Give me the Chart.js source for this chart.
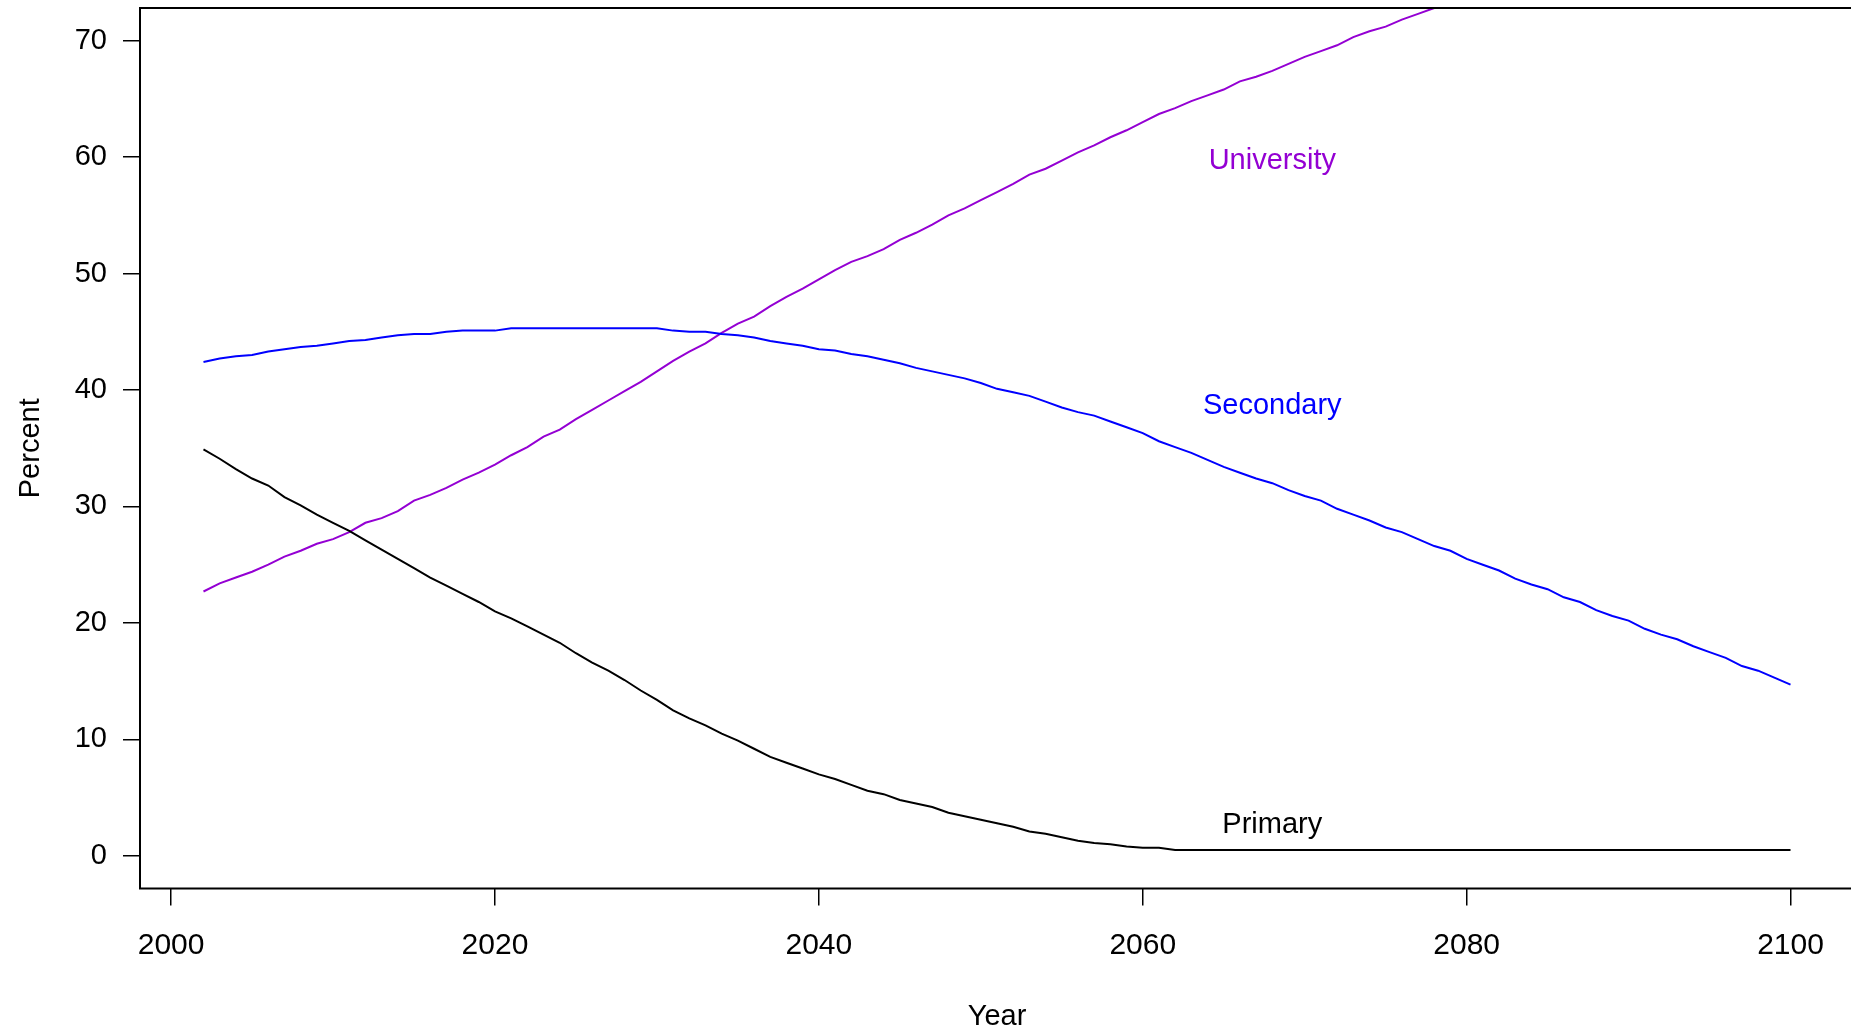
<!DOCTYPE html>
<html>
<head>
<meta charset="utf-8">
<script src="https://cdn.jsdelivr.net/npm/chart.js@4"></script>
<style>
  body { margin: 0; overflow: hidden; background: #fff; }
</style>
</head>
<body>
<canvas id="chart" width="1856" height="1030"></canvas>
<script>
Chart.defaults.font.family = "'Liberation Sans', Arial, sans-serif";
Chart.defaults.color = '#000';

var years = [2002, 2003, 2004, 2005, 2006, 2007, 2008, 2009, 2010, 2011,
  2012, 2013, 2014, 2015, 2016, 2017, 2018, 2019, 2020, 2021,
  2022, 2023, 2024, 2025, 2026, 2027, 2028, 2029, 2030, 2031,
  2032, 2033, 2034, 2035, 2036, 2037, 2038, 2039, 2040, 2041,
  2042, 2043, 2044, 2045, 2046, 2047, 2048, 2049, 2050, 2051,
  2052, 2053, 2054, 2055, 2056, 2057, 2058, 2059, 2060, 2061,
  2062, 2063, 2064, 2065, 2066, 2067, 2068, 2069, 2070, 2071,
  2072, 2073, 2074, 2075, 2076, 2077, 2078, 2079, 2080, 2081,
  2082, 2083, 2084, 2085, 2086, 2087, 2088, 2089, 2090, 2091,
  2092, 2093, 2094, 2095, 2096, 2097, 2098, 2099, 2100];

var primary = [34.9, 34.1, 33.2, 32.4, 31.8, 30.8, 30.1, 29.3, 28.6, 27.9,
  27.1, 26.3, 25.5, 24.7, 23.9, 23.2, 22.5, 21.8, 21.0, 20.4,
  19.7, 19.0, 18.3, 17.4, 16.6, 15.9, 15.1, 14.2, 13.4, 12.5,
  11.8, 11.2, 10.5, 9.9, 9.2, 8.5, 8.0, 7.5, 7.0, 6.6,
  6.1, 5.6, 5.3, 4.8, 4.5, 4.2, 3.7, 3.4, 3.1, 2.8,
  2.5, 2.1, 1.9, 1.6, 1.3, 1.1, 1.0, 0.8, 0.7, 0.7,
  0.5, 0.5, 0.5, 0.5, 0.5, 0.5, 0.5, 0.5, 0.5, 0.5,
  0.5, 0.5, 0.5, 0.5, 0.5, 0.5, 0.5, 0.5, 0.5, 0.5,
  0.5, 0.5, 0.5, 0.5, 0.5, 0.5, 0.5, 0.5, 0.5, 0.5,
  0.5, 0.5, 0.5, 0.5, 0.5, 0.5, 0.5, 0.5, 0.5];

var secondary = [42.4, 42.7, 42.9, 43.0, 43.3, 43.5, 43.7, 43.8, 44.0, 44.2,
  44.3, 44.5, 44.7, 44.8, 44.8, 45.0, 45.1, 45.1, 45.1, 45.3,
  45.3, 45.3, 45.3, 45.3, 45.3, 45.3, 45.3, 45.3, 45.3, 45.1,
  45.0, 45.0, 44.8, 44.7, 44.5, 44.2, 44.0, 43.8, 43.5, 43.4,
  43.1, 42.9, 42.6, 42.3, 41.9, 41.6, 41.3, 41.0, 40.6, 40.1,
  39.8, 39.5, 39.0, 38.5, 38.1, 37.8, 37.3, 36.8, 36.3, 35.6,
  35.1, 34.6, 34.0, 33.4, 32.9, 32.4, 32.0, 31.4, 30.9, 30.5,
  29.8, 29.3, 28.8, 28.2, 27.8, 27.2, 26.6, 26.2, 25.5, 25.0,
  24.5, 23.8, 23.3, 22.9, 22.2, 21.8, 21.1, 20.6, 20.2, 19.5,
  19.0, 18.6, 18.0, 17.5, 17.0, 16.3, 15.9, 15.3, 14.7];

// runs off the top of the plot after ~2078
var university = [22.7, 23.4, 23.9, 24.4, 25.0, 25.7, 26.2, 26.8, 27.2, 27.8,
  28.6, 29.0, 29.6, 30.5, 31.0, 31.6, 32.3, 32.9, 33.6, 34.4,
  35.1, 36.0, 36.6, 37.5, 38.3, 39.1, 39.9, 40.7, 41.6, 42.5,
  43.3, 44.0, 44.9, 45.7, 46.3, 47.2, 48.0, 48.7, 49.5, 50.3,
  51.0, 51.5, 52.1, 52.9, 53.5, 54.2, 55.0, 55.6, 56.3, 57.0,
  57.7, 58.5, 59.0, 59.7, 60.4, 61.0, 61.7, 62.3, 63.0, 63.7,
  64.2, 64.8, 65.3, 65.8, 66.5, 66.9, 67.4, 68.0, 68.6, 69.1,
  69.6, 70.3, 70.8, 71.2, 71.8, 72.3, 72.8, 73.3, 73.9, 74.4];

var xTicks = [2000, 2020, 2040, 2060, 2080, 2100];
var yTicks = [0, 10, 20, 30, 40, 50, 60, 70];

var seriesNames = ['Primary', 'Secondary', 'University'];
var seriesColors = ['#000000', '#0000FF', '#9400D3'];
var labelX = [2068, 2068, 2068];
var labelY = [3, 39, 60];

function points(vals) {
  return vals.map(function(v, i) { return {x: years[i], y: v}; });
}

var frame = {
  id: 'frame',
  afterDatasetsDraw: function(chart) {
    var a = chart.chartArea, ctx = chart.ctx;
    ctx.save();
    ctx.strokeStyle = '#000';
    ctx.lineWidth = 2;
    ctx.strokeRect(a.left, a.top, a.right - a.left, a.bottom - a.top);
    ctx.restore();
  }
};

// text() style labels, centred on the glyphs rather than the em box
var lineLabels = {
  id: 'lineLabels',
  afterDatasetsDraw: function(chart) {
    var ctx = chart.ctx, xs = chart.scales.x, ys = chart.scales.y;
    ctx.save();
    ctx.font = "29px 'Liberation Sans', Arial, sans-serif";
    ctx.textAlign = 'center';
    ctx.textBaseline = 'middle';
    seriesNames.forEach(function(name, i) {
      ctx.fillStyle = seriesColors[i];
      ctx.fillText(name, xs.getPixelForValue(labelX[i]), ys.getPixelForValue(labelY[i]) + 4);
    });
    ctx.restore();
  }
};

var chart = new Chart('chart', {
  type: 'line',
  data: {
    datasets: [
      {label: 'Primary', data: points(primary), borderColor: seriesColors[0]},
      {label: 'Secondary', data: points(secondary), borderColor: seriesColors[1]},
      {label: 'University', data: points(university), borderColor: seriesColors[2]}
    ]
  },
  options: {
    responsive: false,
    animation: false,
    layout: {padding: {top: 8, right: 2, left: 0, bottom: 0}},
    elements: {
      line: {borderWidth: 2, tension: 0},
      point: {radius: 0}
    },
    plugins: {
      legend: {display: false},
      tooltip: {enabled: false}
    },
    scales: {
      x: {
        type: 'linear',
        min: 1998.08,
        max: 2103.92,
        afterFit: function(s) { s.height = 141.5; s.paddingLeft = 0; s.paddingRight = 0; },
        afterBuildTicks: function(s) { s.ticks = xTicks.map(function(v) { return {value: v}; }); },
        border: {display: false},
        grid: {drawOnChartArea: false, drawTicks: true, tickLength: 17, color: '#000', lineWidth: 1.5},
        ticks: {
          font: {size: 30},
          padding: 22,
          maxRotation: 0,
          callback: function(v) { return String(v); }
        },
        title: {display: true, text: 'Year', font: {size: 29, lineHeight: 0.9}, padding: {top: 0, bottom: 0}}
      },
      y: {
        min: -2.8,
        max: 72.8,
        afterFit: function(s) { s.width = 140; s.paddingTop = 0; s.paddingBottom = 0; },
        afterBuildTicks: function(s) { s.ticks = yTicks.map(function(v) { return {value: v}; }); },
        border: {display: false},
        grid: {drawOnChartArea: false, drawTicks: true, tickLength: 17, color: '#000', lineWidth: 1.5},
        ticks: {font: {size: 29}, padding: 16},
        title: {display: true, text: 'Percent', font: {size: 29}, padding: {top: 14, bottom: 0}}
      }
    }
  },
  plugins: [frame, lineLabels]
});
</script>
</body>
</html>
